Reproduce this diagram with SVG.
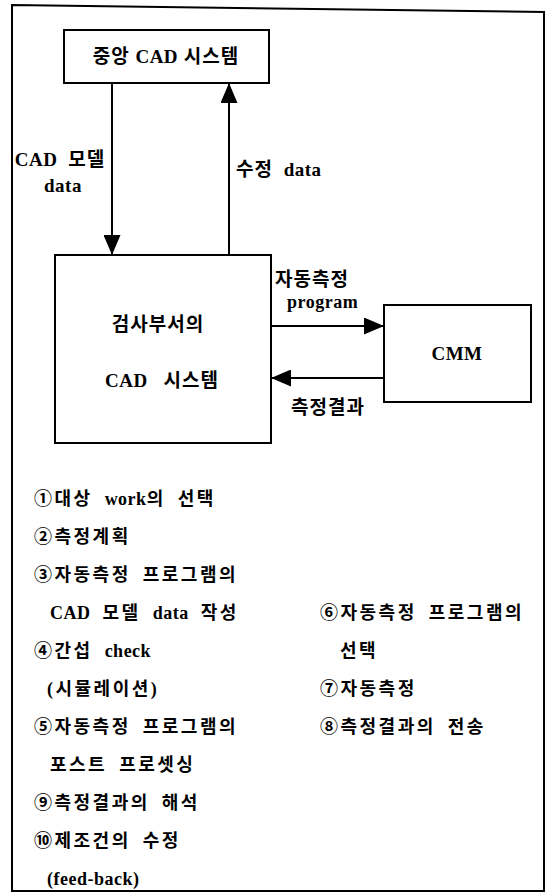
<svg xmlns="http://www.w3.org/2000/svg" width="550" height="894" viewBox="0 0 550 894">
<style>
  .box{fill:#fff;stroke:#000;stroke-width:2}
  .frame{fill:none;stroke:#000;stroke-width:2}
  .ln{fill:none;stroke:#000;stroke-width:2}
  text{font-family:"Liberation Serif","Times New Roman","Noto Sans CJK KR",serif;font-weight:bold;fill:#000}
  .lb{font-size:19px;letter-spacing:1px}
  .ls{font-size:18px;letter-spacing:2.5px;word-spacing:5px}
  .e{font-size:18px;letter-spacing:0.5px}
  .e19{font-size:19px;letter-spacing:0.5px}
</style>
<defs>
  <marker id="ahL" viewBox="0 0 10 10" refX="10" refY="5" markerWidth="20" markerHeight="17" markerUnits="userSpaceOnUse" orient="auto" preserveAspectRatio="none">
    <path d="M0,0 L10,5 L0,10 Z" fill="#000"/>
  </marker>
</defs>
<path class="frame" d="M12,5 L544,12 L544,891 L12,891 Z"/>
<g id="central-cad">
  <rect class="box" x="64" y="30" width="205" height="53"/>
  <text class="lb" x="166" y="63" text-anchor="middle">중앙 <tspan class="e19">CAD</tspan> 시스템</text>
</g>
<g id="inspection-cad">
  <rect class="box" x="55" y="255" width="216" height="188"/>
  <text class="lb" x="158" y="331" text-anchor="middle">검사부서의</text>
  <text class="lb" x="162" y="387" text-anchor="middle" word-spacing="10"><tspan class="e19">CAD</tspan> 시스템</text>
</g>
<g id="cmm">
  <rect class="box" x="384" y="305" width="147" height="97"/>
  <text class="lb" x="457" y="360" text-anchor="middle"><tspan class="e19">CMM</tspan></text>
</g>
<g id="connectors">
  <line class="ln" x1="112" y1="83" x2="112" y2="255" marker-end="url(#ahL)"/>
  <line class="ln" x1="229" y1="255" x2="229" y2="83" marker-end="url(#ahL)"/>
  <line class="ln" x1="271" y1="326" x2="384" y2="326" marker-end="url(#ahL)"/>
  <line class="ln" x1="384" y1="378" x2="271" y2="378" marker-end="url(#ahL)"/>
  <text class="lb" x="60" y="166" text-anchor="middle" word-spacing="5"><tspan class="e19">CAD</tspan> 모델</text>
  <text class="lb" x="63" y="192" text-anchor="middle"><tspan class="e19">data</tspan></text>
  <text class="lb" x="236" y="176" word-spacing="5">수정 <tspan class="e19">data</tspan></text>
  <text class="lb" x="275" y="286">자동측정</text>
  <text class="lb" x="287" y="308"><tspan class="e" letter-spacing="0">program</tspan></text>
  <text class="lb" x="291" y="414">측정결과</text>
</g>
<g id="steps">
  <text class="ls" x="34" y="505">①대상 <tspan class="e">work</tspan>의 선택</text>
  <text class="ls" x="34" y="543">②측정계획</text>
  <text class="ls" x="34" y="581">③자동측정 프로그램의</text>
  <text class="ls" x="50" y="619"><tspan class="e">CAD</tspan> 모델 <tspan class="e">data</tspan> 작성</text>
  <text class="ls" x="34" y="657">④간섭 <tspan class="e">check</tspan></text>
  <text class="ls" x="47" y="695">(시뮬레이션)</text>
  <text class="ls" x="34" y="733">⑤자동측정 프로그램의</text>
  <text class="ls" x="50" y="771">포스트 프로셋싱</text>
  <text class="ls" x="34" y="809">⑨측정결과의 해석</text>
  <text class="ls" x="34" y="847">⑩제조건의 수정</text>
  <text class="ls" x="47" y="885"><tspan class="e">(feed-back)</tspan></text>
  <text class="ls" x="320" y="619">⑥자동측정 프로그램의</text>
  <text class="ls" x="340" y="657">선택</text>
  <text class="ls" x="320" y="695">⑦자동측정</text>
  <text class="ls" x="320" y="733">⑧측정결과의 전송</text>
</g>
</svg>
